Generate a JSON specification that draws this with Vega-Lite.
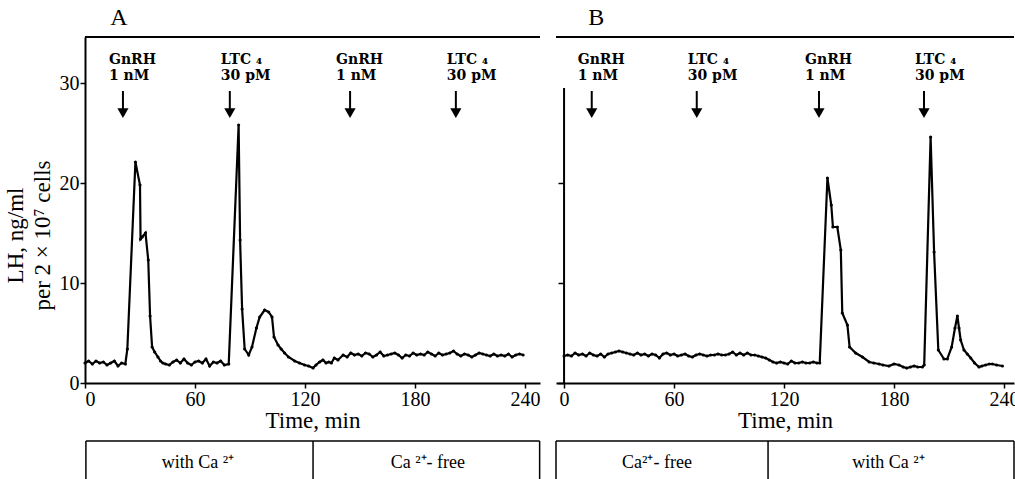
{
  "$schema": "https://vega.github.io/schema/vega-lite/v6.json",
  "background": "white",
  "padding": {"left": 4, "right": 0, "top": 6, "bottom": 0},
  "spacing": 14,
  "config": {
    "font": "Liberation Serif",
    "view": {"stroke": null},
    "axis": {
      "grid": false,
      "domainColor": "black",
      "domainWidth": 2,
      "tickColor": "black",
      "tickWidth": 1.5,
      "tickSize": 5,
      "labelColor": "black",
      "labelFont": "Liberation Serif",
      "labelFontSize": 20,
      "labelPadding": 1,
      "titleFont": "Liberation Serif",
      "titleFontSize": 23,
      "titleFontWeight": "normal",
      "titleColor": "black"
    }
  },
  "datasets": {
    "traceA": [
      {"t": 0, "v": 2.0}, {"t": 2, "v": 2.2}, {"t": 4, "v": 1.9}, {"t": 6, "v": 2.2}, {"t": 8, "v": 2.0},
      {"t": 10, "v": 2.1}, {"t": 12, "v": 1.8}, {"t": 14, "v": 2.0}, {"t": 16, "v": 2.2}, {"t": 18, "v": 1.7},
      {"t": 20, "v": 2.0}, {"t": 22, "v": 1.9}, {"t": 23.1, "v": 3.4}, {"t": 27.5, "v": 22.1}, {"t": 30.0, "v": 19.8},
      {"t": 30.3, "v": 14.4}, {"t": 31.2, "v": 14.6}, {"t": 33.0, "v": 15.0}, {"t": 34.5, "v": 12.3}, {"t": 35.5, "v": 6.7},
      {"t": 36.6, "v": 3.6}, {"t": 38, "v": 3.1}, {"t": 39.8, "v": 2.6}, {"t": 41.2, "v": 2.2}, {"t": 42.5, "v": 2.0},
      {"t": 44, "v": 1.9}, {"t": 46, "v": 1.8}, {"t": 48, "v": 2.1}, {"t": 50, "v": 2.3}, {"t": 52, "v": 2.0},
      {"t": 54, "v": 2.4}, {"t": 56, "v": 2.0}, {"t": 58, "v": 1.8}, {"t": 60, "v": 2.1}, {"t": 62, "v": 2.2},
      {"t": 64, "v": 2.0}, {"t": 66, "v": 2.4}, {"t": 68, "v": 1.7}, {"t": 70, "v": 2.1}, {"t": 72, "v": 2.0},
      {"t": 74, "v": 2.2}, {"t": 76, "v": 1.8}, {"t": 78.4, "v": 1.9}, {"t": 83.8, "v": 25.8}, {"t": 84.6, "v": 14.3},
      {"t": 85.7, "v": 7.4}, {"t": 87.1, "v": 3.4}, {"t": 89.3, "v": 2.8}, {"t": 91.1, "v": 3.6}, {"t": 93.5, "v": 5.5},
      {"t": 95.3, "v": 6.6}, {"t": 98.0, "v": 7.3}, {"t": 100.2, "v": 7.1}, {"t": 102.0, "v": 6.6}, {"t": 103.1, "v": 4.6},
      {"t": 105.3, "v": 3.8}, {"t": 107, "v": 3.4}, {"t": 108.9, "v": 3.0}, {"t": 111, "v": 2.6}, {"t": 114.4, "v": 2.2},
      {"t": 117, "v": 2.0}, {"t": 119.8, "v": 1.8}, {"t": 122, "v": 1.7}, {"t": 124.4, "v": 1.5}, {"t": 126, "v": 1.8},
      {"t": 128, "v": 2.1}, {"t": 129.8, "v": 2.3}, {"t": 131.5, "v": 2.0}, {"t": 133, "v": 2.1}, {"t": 134.4, "v": 2.0},
      {"t": 136, "v": 2.5}, {"t": 138, "v": 2.3}, {"t": 140.8, "v": 2.8}, {"t": 143, "v": 2.6}, {"t": 145, "v": 3.0},
      {"t": 147, "v": 2.8}, {"t": 149, "v": 2.9}, {"t": 151, "v": 2.7}, {"t": 153, "v": 3.0}, {"t": 155, "v": 2.9},
      {"t": 157, "v": 2.6}, {"t": 159, "v": 2.8}, {"t": 161, "v": 3.1}, {"t": 163, "v": 2.7}, {"t": 165, "v": 2.8},
      {"t": 167, "v": 2.9}, {"t": 169, "v": 3.0}, {"t": 171, "v": 2.8}, {"t": 173, "v": 2.5}, {"t": 175, "v": 2.8},
      {"t": 177, "v": 2.7}, {"t": 179, "v": 3.0}, {"t": 181, "v": 2.8}, {"t": 183, "v": 2.9}, {"t": 185, "v": 2.8},
      {"t": 187, "v": 3.1}, {"t": 189, "v": 2.9}, {"t": 191, "v": 2.7}, {"t": 193, "v": 3.0}, {"t": 195, "v": 2.8},
      {"t": 197, "v": 2.9}, {"t": 199, "v": 3.0}, {"t": 201, "v": 3.2}, {"t": 203, "v": 2.9}, {"t": 205, "v": 2.7},
      {"t": 207, "v": 2.9}, {"t": 209, "v": 2.8}, {"t": 211, "v": 2.6}, {"t": 213, "v": 2.8}, {"t": 215, "v": 3.0},
      {"t": 217, "v": 2.9}, {"t": 219, "v": 2.8}, {"t": 221, "v": 2.7}, {"t": 223, "v": 2.9}, {"t": 225, "v": 2.7},
      {"t": 227, "v": 2.8}, {"t": 229, "v": 2.7}, {"t": 231, "v": 2.9}, {"t": 233, "v": 2.6}, {"t": 235, "v": 2.8},
      {"t": 237, "v": 2.9}, {"t": 239, "v": 2.8}
    ],
    "traceB": [
      {"t": 0, "v": 2.7}, {"t": 2, "v": 2.8}, {"t": 4, "v": 2.7}, {"t": 6, "v": 3.0}, {"t": 8, "v": 2.8},
      {"t": 10, "v": 2.9}, {"t": 12, "v": 2.7}, {"t": 14, "v": 3.0}, {"t": 16, "v": 2.8}, {"t": 18, "v": 2.7},
      {"t": 20, "v": 2.9}, {"t": 22, "v": 2.6}, {"t": 24, "v": 2.9}, {"t": 26, "v": 3.0}, {"t": 28, "v": 3.1},
      {"t": 30, "v": 3.2}, {"t": 32, "v": 3.1}, {"t": 34, "v": 3.0}, {"t": 36, "v": 2.9}, {"t": 38, "v": 2.8},
      {"t": 40, "v": 3.0}, {"t": 42, "v": 2.8}, {"t": 44, "v": 2.9}, {"t": 46, "v": 2.7}, {"t": 48, "v": 2.9},
      {"t": 50, "v": 2.8}, {"t": 52, "v": 2.5}, {"t": 54, "v": 2.9}, {"t": 56, "v": 3.0}, {"t": 58, "v": 2.8},
      {"t": 60, "v": 2.9}, {"t": 62, "v": 2.7}, {"t": 64, "v": 2.8}, {"t": 66, "v": 2.9}, {"t": 68, "v": 2.7},
      {"t": 70, "v": 2.6}, {"t": 72, "v": 2.8}, {"t": 74, "v": 2.9}, {"t": 76, "v": 2.8}, {"t": 78, "v": 2.7},
      {"t": 80, "v": 2.8}, {"t": 82, "v": 2.8}, {"t": 84, "v": 2.9}, {"t": 86, "v": 2.8}, {"t": 88, "v": 2.8},
      {"t": 90, "v": 2.9}, {"t": 92, "v": 3.1}, {"t": 94, "v": 2.8}, {"t": 96, "v": 3.0}, {"t": 98, "v": 2.8},
      {"t": 100, "v": 3.0}, {"t": 102, "v": 2.8}, {"t": 104, "v": 2.8}, {"t": 106, "v": 2.7}, {"t": 108, "v": 2.6},
      {"t": 110, "v": 2.5}, {"t": 112, "v": 2.3}, {"t": 114, "v": 2.1}, {"t": 116, "v": 2.0}, {"t": 118, "v": 2.1},
      {"t": 120, "v": 2.0}, {"t": 122, "v": 1.9}, {"t": 124, "v": 2.2}, {"t": 126, "v": 2.0}, {"t": 128, "v": 2.0},
      {"t": 130, "v": 2.1}, {"t": 132, "v": 2.0}, {"t": 134, "v": 2.0}, {"t": 136, "v": 2.1}, {"t": 138, "v": 2.0},
      {"t": 139.5, "v": 2.0}, {"t": 143.7, "v": 20.5}, {"t": 145.8, "v": 17.8}, {"t": 146.7, "v": 15.6}, {"t": 149.1, "v": 15.6},
      {"t": 151.0, "v": 13.3}, {"t": 151.8, "v": 7.0}, {"t": 154.6, "v": 5.8}, {"t": 155.8, "v": 3.6}, {"t": 159.1, "v": 3.0},
      {"t": 162.8, "v": 2.6}, {"t": 166.5, "v": 2.1}, {"t": 169, "v": 2.0}, {"t": 171.9, "v": 1.9}, {"t": 174, "v": 1.8},
      {"t": 177.3, "v": 1.7}, {"t": 180, "v": 1.9}, {"t": 182.8, "v": 1.8}, {"t": 185, "v": 1.6}, {"t": 187, "v": 1.5},
      {"t": 189, "v": 1.6}, {"t": 191, "v": 1.7}, {"t": 193, "v": 1.6}, {"t": 195.5, "v": 1.6}, {"t": 196.5, "v": 1.8},
      {"t": 200.0, "v": 24.6}, {"t": 201.9, "v": 13.1}, {"t": 204.2, "v": 3.3}, {"t": 207.3, "v": 2.4}, {"t": 209.1, "v": 2.4},
      {"t": 211.5, "v": 3.6}, {"t": 213.3, "v": 5.5}, {"t": 214.6, "v": 6.7}, {"t": 215.5, "v": 5.5}, {"t": 216.4, "v": 4.3},
      {"t": 218.2, "v": 3.3}, {"t": 220, "v": 2.9}, {"t": 221.9, "v": 2.5}, {"t": 224, "v": 2.0}, {"t": 226.4, "v": 1.6},
      {"t": 228, "v": 1.7}, {"t": 230, "v": 1.8}, {"t": 232, "v": 1.9}, {"t": 233.7, "v": 1.9}, {"t": 236, "v": 1.8},
      {"t": 239.2, "v": 1.7}
    ],
    "stimA": [
      {"t": 20.7, "agent": "GnRH", "lab": "GnRH|1  nM"},
      {"t": 79.0, "agent": "LTC", "lab": "LTC ₄|30  pM"},
      {"t": 144.6, "agent": "GnRH", "lab": "GnRH|1  nM"},
      {"t": 202.3, "agent": "LTC", "lab": "LTC ₄|30  pM"}
    ],
    "stimB": [
      {"t": 15.1, "agent": "GnRH", "lab": "GnRH|1  nM"},
      {"t": 72.4, "agent": "LTC", "lab": "LTC ₄|30  pM"},
      {"t": 139.1, "agent": "GnRH", "lab": "GnRH|1  nM"},
      {"t": 196.4, "agent": "LTC", "lab": "LTC ₄|30  pM"}
    ],
    "phaseA": [
      {"t": 61.6, "lab": "with Ca  ²⁺"},
      {"t": 187, "lab": "Ca  ²⁺- free"}
    ],
    "phaseB": [
      {"t": 50.7, "lab": "Ca²⁺- free"},
      {"t": 177, "lab": "with Ca  ²⁺"}
    ],
    "edgesA": [{"t": 0.5}, {"t": 124.4}, {"t": 248.0}],
    "edgesB": [{"t": -4.4}, {"t": 111.3}, {"t": 245.5}]
  },
  "hconcat": [
    {
      "width": 455,
      "height": 346,
      "layer": [
        {
          "data": {"name": "traceA"},
          "mark": {"type": "line", "color": "black", "strokeWidth": 2.2, "point": {"filled": true, "size": 10, "color": "black"}},
          "encoding": {
            "x": {"field": "t", "type": "quantitative", "scale": {"domain": [0, 248.2], "nice": false, "zero": false},
                  "axis": {"values": [0, 60, 120, 180, 240], "title": "Time, min", "titlePadding": 0}},
            "y": {"field": "v", "type": "quantitative", "scale": {"domain": [0, 34.6], "nice": false},
                  "axis": {"values": [0, 10, 20, 30], "title": ["LH, ng/ml", "per 2 × 10⁷ cells"], "titleLineHeight": 27, "titlePadding": 5, "titleY": 198}}
          }
        },
        {
          "data": {"name": "stimA"},
          "mark": {"type": "rule", "color": "black", "strokeWidth": 2},
          "encoding": {"x": {"field": "t", "type": "quantitative"}, "y": {"datum": 29.2}, "y2": {"datum": 27.2}}
        },
        {
          "data": {"name": "stimA"},
          "mark": {"type": "point", "shape": "triangle-down", "filled": true, "size": 125, "color": "black", "opacity": 1},
          "encoding": {"x": {"field": "t", "type": "quantitative"}, "y": {"datum": 26.98}}
        },
        {
          "data": {"name": "stimA"},
          "transform": [{"filter": "datum.agent === 'GnRH'"}],
          "mark": {"type": "text", "font": "DejaVu Serif", "fontWeight": "bold", "fontSize": 14, "align": "left", "baseline": "alphabetic", "lineBreak": "|", "lineHeight": 16, "dx": -14, "color": "black"},
          "encoding": {"x": {"field": "t", "type": "quantitative"}, "y": {"datum": 31.95}, "text": {"field": "lab"}}
        },
        {
          "data": {"name": "stimA"},
          "transform": [{"filter": "datum.agent === 'LTC'"}],
          "mark": {"type": "text", "font": "DejaVu Serif", "fontWeight": "bold", "fontSize": 14, "align": "left", "baseline": "alphabetic", "lineBreak": "|", "lineHeight": 16, "dx": -9, "color": "black"},
          "encoding": {"x": {"field": "t", "type": "quantitative"}, "y": {"datum": 31.95}, "text": {"field": "lab"}}
        },
        {
          "data": {"values": [{}]},
          "mark": {"type": "rule", "color": "black", "strokeWidth": 2},
          "encoding": {"x": {"datum": 0}, "x2": {"datum": 248.2}, "y": {"datum": 34.6}}
        },
        {
          "data": {"values": [{}]},
          "mark": {"type": "text", "fontSize": 24, "align": "center", "baseline": "middle", "color": "black"},
          "encoding": {"x": {"datum": 18.5}, "y": {"datum": 36.5}, "text": {"value": "A"}}
        },
        {
          "data": {"values": [{}]},
          "mark": {"type": "rule", "color": "black", "strokeWidth": 1.5},
          "encoding": {"x": {"datum": 0.5}, "x2": {"datum": 248.0}, "y": {"datum": -5.8}}
        },
        {
          "data": {"name": "edgesA"},
          "mark": {"type": "rule", "color": "black", "strokeWidth": 1.5},
          "encoding": {"x": {"field": "t", "type": "quantitative"}, "y": {"datum": -5.8}, "y2": {"datum": -9.6}}
        },
        {
          "data": {"name": "phaseA"},
          "mark": {"type": "text", "fontSize": 18, "align": "center", "baseline": "middle", "color": "black"},
          "encoding": {"x": {"field": "t", "type": "quantitative"}, "y": {"datum": -8.0}, "text": {"field": "lab"}}
        }
      ]
    },
    {
      "width": 458,
      "height": 346,
      "layer": [
        {
          "data": {"name": "traceB"},
          "mark": {"type": "line", "color": "black", "strokeWidth": 2.2, "point": {"filled": true, "size": 10, "color": "black"}},
          "encoding": {
            "x": {"field": "t", "type": "quantitative", "scale": {"domain": [-4.4, 245.5], "nice": false, "zero": false},
                  "axis": {"values": [0, 60, 120, 180, 240], "title": "Time, min", "titlePadding": 0}},
            "y": {"field": "v", "type": "quantitative", "scale": {"domain": [0, 34.6], "nice": false},
                  "axis": {"values": [0, 10, 20], "labels": false, "domain": false, "title": null, "offset": -8, "tickSize": 6}}
          }
        },
        {
          "data": {"values": [{}]},
          "mark": {"type": "rule", "color": "black", "strokeWidth": 2},
          "encoding": {"x": {"datum": 0}, "y": {"datum": 0}, "y2": {"datum": 29.5}}
        },
        {
          "data": {"name": "stimB"},
          "mark": {"type": "rule", "color": "black", "strokeWidth": 2},
          "encoding": {"x": {"field": "t", "type": "quantitative"}, "y": {"datum": 29.2}, "y2": {"datum": 27.2}}
        },
        {
          "data": {"name": "stimB"},
          "mark": {"type": "point", "shape": "triangle-down", "filled": true, "size": 125, "color": "black", "opacity": 1},
          "encoding": {"x": {"field": "t", "type": "quantitative"}, "y": {"datum": 26.98}}
        },
        {
          "data": {"name": "stimB"},
          "transform": [{"filter": "datum.agent === 'GnRH'"}],
          "mark": {"type": "text", "font": "DejaVu Serif", "fontWeight": "bold", "fontSize": 14, "align": "left", "baseline": "alphabetic", "lineBreak": "|", "lineHeight": 16, "dx": -14, "color": "black"},
          "encoding": {"x": {"field": "t", "type": "quantitative"}, "y": {"datum": 31.95}, "text": {"field": "lab"}}
        },
        {
          "data": {"name": "stimB"},
          "transform": [{"filter": "datum.agent === 'LTC'"}],
          "mark": {"type": "text", "font": "DejaVu Serif", "fontWeight": "bold", "fontSize": 14, "align": "left", "baseline": "alphabetic", "lineBreak": "|", "lineHeight": 16, "dx": -9, "color": "black"},
          "encoding": {"x": {"field": "t", "type": "quantitative"}, "y": {"datum": 31.95}, "text": {"field": "lab"}}
        },
        {
          "data": {"values": [{}]},
          "mark": {"type": "rule", "color": "black", "strokeWidth": 2},
          "encoding": {"x": {"datum": -4.4}, "x2": {"datum": 245.5}, "y": {"datum": 34.6}}
        },
        {
          "data": {"values": [{}]},
          "mark": {"type": "text", "fontSize": 24, "align": "center", "baseline": "middle", "color": "black"},
          "encoding": {"x": {"datum": 17.5}, "y": {"datum": 36.5}, "text": {"value": "B"}}
        },
        {
          "data": {"values": [{}]},
          "mark": {"type": "rule", "color": "black", "strokeWidth": 1.5},
          "encoding": {"x": {"datum": -4.4}, "x2": {"datum": 245.5}, "y": {"datum": -5.8}}
        },
        {
          "data": {"name": "edgesB"},
          "mark": {"type": "rule", "color": "black", "strokeWidth": 1.5},
          "encoding": {"x": {"field": "t", "type": "quantitative"}, "y": {"datum": -5.8}, "y2": {"datum": -9.6}}
        },
        {
          "data": {"name": "phaseB"},
          "mark": {"type": "text", "fontSize": 18, "align": "center", "baseline": "middle", "color": "black"},
          "encoding": {"x": {"field": "t", "type": "quantitative"}, "y": {"datum": -8.0}, "text": {"field": "lab"}}
        }
      ]
    }
  ]
}
